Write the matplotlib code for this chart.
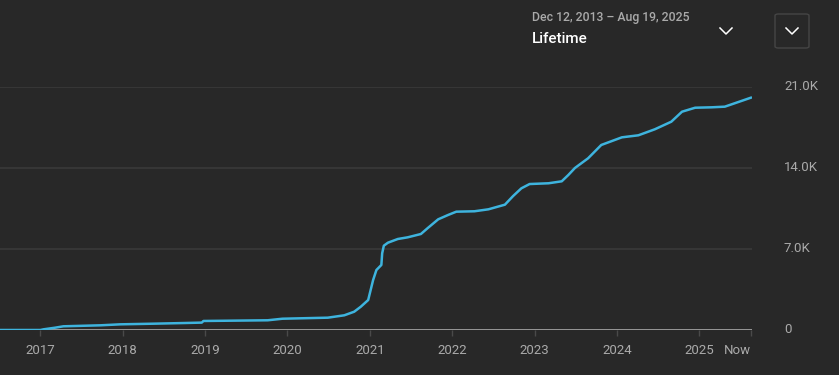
import matplotlib
matplotlib.use("Agg")
import matplotlib.pyplot as plt
import matplotlib.transforms as mtransforms
from matplotlib.patches import FancyBboxPatch
from matplotlib.lines import Line2D

# ---- data (decimal year, cumulative value) ----
years = [2016.51, 2017.00, 2017.04, 2017.18, 2017.28, 2017.73, 2017.97, 2018.37,
         2018.76, 2018.96, 2018.98, 2019.76, 2019.94, 2020.49, 2020.69, 2020.81, 2020.89,
         2020.98, 2021.04, 2021.08, 2021.10, 2021.14, 2021.15, 2021.17, 2021.22,
         2021.34, 2021.46, 2021.62, 2021.70, 2021.83, 2021.95, 2022.05, 2022.27,
         2022.44, 2022.64, 2022.74, 2022.84, 2022.94, 2023.17, 2023.33, 2023.41,
         2023.49, 2023.65, 2023.81, 2024.06, 2024.26, 2024.46, 2024.66, 2024.79,
         2024.95, 2025.15, 2025.31, 2025.52, 2025.64]
values = [0, 0, 60, 200, 320, 405, 490, 545,
          605, 640, 780, 840, 975, 1065, 1270, 1580, 2010,
          2590, 4320, 5185, 5330, 5620, 6630, 7285, 7545,
          7865, 8010, 8295, 8790, 9565, 9940, 10225, 10260,
          10430, 10830, 11580, 12245, 12615, 12680, 12850, 13395,
          14000, 14840, 15990, 16650, 16825, 17345, 18000, 18865,
          19210, 19245, 19300, 19815, 20110]

x_tick_pos = [2017, 2018, 2019, 2020, 2021, 2022, 2023, 2024, 2025, 2025.63]
x_tick_labels = ["2017", "2018", "2019", "2020", "2021", "2022", "2023", "2024", "2025", "Now"]
y_ticks = [0, 7000, 14000, 21000]
y_tick_labels = ["0", "7.0K", "14.0K", "21.0K"]
date_range = "Dec 12, 2013 \u2013 Aug 19, 2025"
period = "Lifetime"

BG = "#282828"
W, H = 839, 375
plt.rcParams['font.family'] = ['Roboto', 'DejaVu Sans']

fig = plt.figure(figsize=(W / 100, H / 100), dpi=100, facecolor=BG)
ax = fig.add_axes([0, (H - 330) / H, 752 / W, (330 - 87) / H], facecolor=BG)

ax.plot(years, values, color="#3eb4de", lw=1.8, solid_capstyle="butt", zorder=3)

ax.set_xlim(2016.51, 2025.64)
ax.set_ylim(0, 21000)
for s in ax.spines.values():
    s.set_visible(False)

for v in y_ticks[1:]:
    ax.axhline(v, color="#3a3a3a", lw=1.2, zorder=1)
ax.axhline(0, color="#aaaaaa", lw=1.2, zorder=2)

ax.yaxis.tick_right()
ax.set_yticks(y_ticks)
ax.set_yticklabels(y_tick_labels)
ax.tick_params(axis="y", length=0, pad=23, labelsize=9.5, labelcolor="#aaaaaa")
up = mtransforms.ScaledTranslation(0, 0.02, fig.dpi_scale_trans)
for lab in ax.get_yticklabels():
    lab.set_transform(lab.get_transform() + up)

ax.set_xticks(x_tick_pos)
ax.set_xticklabels(x_tick_labels)
ax.tick_params(axis="x", length=4, width=1, color="#4a4a4a", pad=6, labelsize=9.5,
               labelcolor="#aaaaaa")
ax.get_xticklines()[-2].set_color("#aaaaaa")
ax.get_xticklabels()[-1].set_horizontalalignment("right")

# header
def fx(px):
    return px / W

def fy(py):
    return 1 - py / H

fig.text(fx(532), fy(18), date_range, color="#aaaaaa", fontsize=8.8,
         fontweight="medium", va="center", ha="left")
fig.text(fx(532), fy(39), period, color="#ffffff", fontsize=11,
         fontweight="medium", va="center", ha="left")

def chevron(cx, cy):
    fig.add_artist(Line2D([fx(cx - 6), fx(cx), fx(cx + 6)],
                          [fy(cy - 3), fy(cy + 3), fy(cy - 3)],
                          color="white", lw=1.1, transform=fig.transFigure))

chevron(726, 31)
box = FancyBboxPatch((fx(775), fy(48)), fx(34), 34 / H,
                     boxstyle="round,pad=0,rounding_size=0.004",
                     transform=fig.transFigure, facecolor=BG, edgecolor="#454545", lw=1)
fig.add_artist(box)
chevron(792, 31)

fig.savefig("out.png", dpi=100, facecolor=BG)
